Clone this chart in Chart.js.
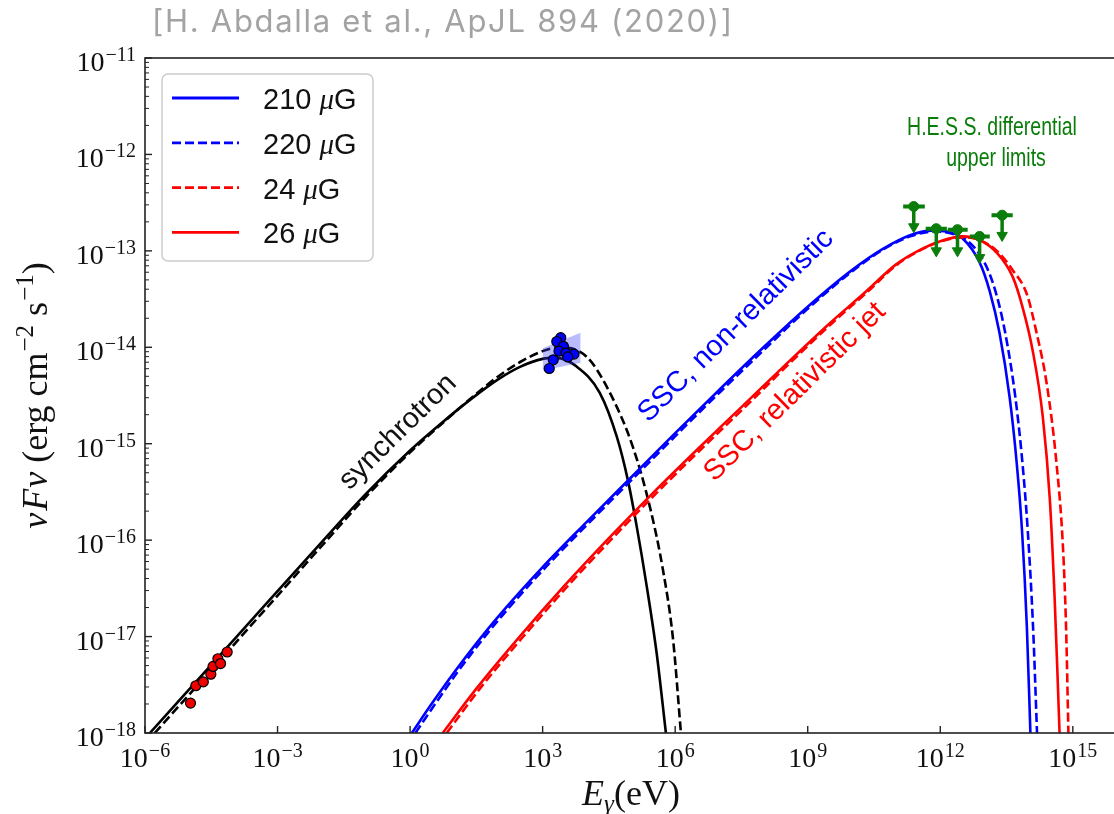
<!DOCTYPE html>
<html>
<head>
<meta charset="utf-8">
<script src="https://cdn.jsdelivr.net/npm/chart.js@4.4.0/dist/chart.umd.min.js"></script>
<style>
html, body { margin: 0; padding: 0; overflow: hidden; background: #fff; }
canvas { display: block; }
</style>
</head>
<body>
<canvas id="sedChart" width="1124" height="814"></canvas>
<script>
// all values are log10: energy in eV, nuFnu in erg cm^-2 s^-1
var synSolidE = [-5.89, -4.0, -2.0, -1.0, 0.0, 0.7, 1.4, 2.0, 2.5, 3.0, 3.3, 3.77, 4.29, 4.68, 4.93, 5.13, 5.36, 5.58, 5.79];
var synSolidF = [-18.0, -17.04, -16.02, -15.52, -15.07, -14.79, -14.53, -14.33, -14.20, -14.12, -14.11, -14.20, -14.47, -14.93, -15.38, -15.86, -16.49, -17.17, -18.0];
var synDashE = [-5.78, -4.0, -2.0, -1.0, 0.0, 0.7, 1.4, 2.0, 2.5, 3.0, 3.4, 4.0, 4.52, 5.04, 5.43, 5.72, 5.95, 6.13];
var synDashF = [-18.0, -17.09, -16.06, -15.55, -15.09, -14.80, -14.52, -14.30, -14.15, -14.04, -14.00, -14.10, -14.47, -15.03, -15.66, -16.30, -17.02, -18.0];

var b210E = [0.04, 0.5, 1.0, 1.5, 2.0, 3.0, 4.0, 5.0, 6.0, 7.0, 8.0, 9.0, 10.0, 10.7, 11.3, 11.8, 12.15, 12.5, 12.89, 13.12, 13.34, 13.57, 13.73, 13.85, 13.96, 14.04];
var b210F = [-18.0, -17.69, -17.37, -17.07, -16.79, -16.28, -15.81, -15.35, -14.89, -14.44, -14.00, -13.58, -13.20, -12.98, -12.84, -12.79, -12.80, -12.87, -13.12, -13.42, -13.85, -14.52, -15.20, -15.90, -16.90, -18.0];
var b220E = [0.12, 0.58, 1.07, 1.57, 2.07, 3.07, 4.07, 5.07, 6.07, 7.07, 8.07, 9.05, 10.04, 10.73, 11.32, 11.85, 12.25, 12.6, 13.0, 13.25, 13.47, 13.70, 13.86, 13.98, 14.10, 14.19];
var b220F = [-18.0, -17.69, -17.37, -17.07, -16.79, -16.28, -15.81, -15.35, -14.89, -14.44, -14.00, -13.58, -13.20, -12.98, -12.85, -12.80, -12.82, -12.89, -13.12, -13.42, -13.85, -14.52, -15.20, -15.90, -16.90, -18.0];

var r26E = [0.74, 1.5, 2.5, 3.5, 4.5, 5.5, 6.5, 7.5, 8.5, 9.5, 10.3, 11.0, 11.5, 12.0, 12.5, 12.9, 13.28, 13.64, 13.86, 14.09, 14.32, 14.48, 14.59, 14.66, 14.70];
var r26F = [-18.0, -17.54, -16.99, -16.47, -15.98, -15.51, -15.06, -14.62, -14.18, -13.75, -13.43, -13.14, -13.00, -12.90, -12.85, -12.89, -13.02, -13.27, -13.58, -14.03, -14.72, -15.58, -16.62, -17.48, -18.0];
var r24E = [0.83, 1.58, 2.58, 3.58, 4.58, 5.58, 6.58, 7.58, 8.56, 9.55, 10.34, 11.03, 11.52, 12.02, 12.5, 12.9, 13.28, 13.64, 13.96, 14.18, 14.41, 14.63, 14.78, 14.85, 14.90];
var r24F = [-18.0, -17.54, -16.99, -16.47, -15.98, -15.51, -15.06, -14.62, -14.18, -13.75, -13.43, -13.14, -13.00, -12.90, -12.86, -12.89, -13.00, -13.20, -13.45, -13.85, -14.38, -15.20, -16.10, -16.95, -18.0];

var radioE = [-4.97, -4.85, -4.68, -4.51, -4.46, -4.35, -4.29, -4.14];
var radioF = [-17.69, -17.51, -17.47, -17.39, -17.31, -17.23, -17.28, -17.16];
var xrayE = [3.41, 3.32, 3.47, 3.37, 3.53, 3.71, 3.57, 3.24, 3.15];
var xrayF = [-13.90, -13.94, -13.99, -14.04, -14.06, -14.07, -14.10, -14.13, -14.22];
var bandE = [3.00, 3.86];
var bandTopF = [-14.01, -13.85];
var bandLowF = [-14.24, -14.16];

// H.E.S.S. differential upper limits
var ulE = [11.40, 11.91, 12.39, 12.89, 13.40];
var ulLoE = [11.16, 11.67, 12.17, 12.67, 13.16];
var ulHiE = [11.65, 12.15, 12.62, 13.12, 13.64];
var ulF = [-12.54, -12.77, -12.78, -12.85, -12.63];
var ulArrowF = [-12.75, -13.00, -13.00, -13.07, -12.84];

var xTickExps = [-6, -3, 0, 3, 6, 9, 12, 15];
var yTickExps = [-18, -17, -16, -15, -14, -13, -12, -11];
var legendLabels = ['210 μG', '220 μG', '24 μG', '26 μG'];
var legendColors = ['#0000ff', '#0000ff', '#ff0000', '#ff0000'];
var legendDashed = [false, true, true, false];

function pts(eArr, fArr) {
    return eArr.map(function (e, i) { return { x: Math.pow(10, e), y: Math.pow(10, fArr[i]) }; });
}

// horizontal bars and stems of the upper limits, broken with null points
var ulBars = [], ulStems = [];
ulE.forEach(function (e, i) {
    ulBars.push({ x: Math.pow(10, ulLoE[i]), y: Math.pow(10, ulF[i]) });
    ulBars.push({ x: Math.pow(10, ulHiE[i]), y: Math.pow(10, ulF[i]) });
    ulBars.push({ x: Math.pow(10, ulHiE[i]), y: null });
    ulStems.push({ x: Math.pow(10, e), y: Math.pow(10, ulF[i]) });
    ulStems.push({ x: Math.pow(10, e), y: Math.pow(10, ulArrowF[i]) });
    ulStems.push({ x: Math.pow(10, e), y: null });
});

var GREEN = '#0b7d0b';
var SERIF = '"Liberation Serif", "DejaVu Serif", serif';
var SANS = '"Liberation Sans", Arial, sans-serif';

function curve(data, color, dashed, order) {
    return {
        type: 'line', data: data, borderColor: color, borderWidth: 2.6,
        borderDash: dashed ? [9, 4] : [], pointRadius: 0, fill: false,
        cubicInterpolationMode: 'monotone', order: order
    };
}

function drawRich(ctx, runs, x, y, align) {
    var w = 0;
    runs.forEach(function (r) { ctx.font = r.f; r.w = ctx.measureText(r.t).width + (r.gap || 0); w += r.w; });
    var cx = align === 'right' ? x - w : (align === 'center' ? x - w / 2 : x);
    runs.forEach(function (r) {
        ctx.font = r.f;
        ctx.fillText(r.t, cx + (r.pre || 0), y + (r.dy || 0));
        cx += r.w;
    });
}

function expText(e) {
    return e < 0 ? '\u2212' + Math.abs(e) : String(e);
}

var decorPlugin = {
    id: 'decor',
    afterDraw: function (chart) {
        var ctx = chart.ctx, a = chart.chartArea;
        var xs = chart.scales.x, ys = chart.scales.y;
        ctx.save();
        ctx.textBaseline = 'alphabetic';
        ctx.textAlign = 'left';

        // frame
        ctx.strokeStyle = '#222';
        ctx.lineWidth = 1.6;
        ctx.strokeRect(a.left, a.top, a.right - a.left, a.bottom - a.top);

        // x ticks + labels
        ctx.lineWidth = 1.4;
        ctx.fillStyle = '#111';
        xTickExps.forEach(function (e) {
            var px = xs.getPixelForValue(Math.pow(10, e));
            ctx.beginPath(); ctx.moveTo(px, a.bottom); ctx.lineTo(px, a.bottom - 7); ctx.stroke();
            drawRich(ctx, [
                { t: '10', f: '28px ' + SERIF },
                { t: expText(e), f: '20px ' + SERIF, dy: -10, pre: 1, gap: 1 }
            ], px, a.bottom + 34, 'center');
        });

        // y ticks (major + minor) + labels
        yTickExps.forEach(function (e) {
            var py = ys.getPixelForValue(Math.pow(10, e));
            ctx.lineWidth = 1.4;
            ctx.beginPath(); ctx.moveTo(a.left, py); ctx.lineTo(a.left + 7, py); ctx.stroke();
            if (e < -11) {
                ctx.lineWidth = 1;
                for (var m = 2; m <= 9; m++) {
                    var my = ys.getPixelForValue(m * Math.pow(10, e));
                    ctx.beginPath(); ctx.moveTo(a.left, my); ctx.lineTo(a.left + 4, my); ctx.stroke();
                }
            }
            drawRich(ctx, [
                { t: '10', f: '28px ' + SERIF },
                { t: expText(e), f: '20px ' + SERIF, dy: -10, pre: 1, gap: 1 }
            ], 136, py + 13, 'right');
        });

        // axis titles
        drawRich(ctx, [
            { t: 'E', f: 'italic 36px ' + SERIF },
            { t: 'γ', f: 'italic 25px ' + SERIF, dy: 7 },
            { t: '(eV)', f: '36px ' + SERIF }
        ], (a.left + a.right) / 2, 805, 'center');

        ctx.save();
        ctx.translate(47, (a.top + a.bottom) / 2);
        ctx.rotate(-Math.PI / 2);
        drawRich(ctx, [
            { t: 'ν', f: 'italic 36px ' + SERIF, gap: 2 },
            { t: 'F', f: 'italic 36px ' + SERIF, gap: 1 },
            { t: 'ν', f: 'italic 36px ' + SERIF },
            { t: ' (erg cm', f: '36px ' + SERIF },
            { t: '\u22122', f: '25px ' + SERIF, dy: -14, pre: 1, gap: 1 },
            { t: ' s', f: '36px ' + SERIF },
            { t: '\u22121', f: '25px ' + SERIF, dy: -14, pre: 1, gap: 1 },
            { t: ')', f: '36px ' + SERIF }
        ], 0, 0, 'center');
        ctx.restore();

        // curve annotations
        ctx.textAlign = 'center';
        ctx.textBaseline = 'middle';
        ctx.font = '29px ' + SANS;
        [['synchrotron', '#111', 398, 432], ['SSC, non-relativistic', '#0000ff', 736, 326], ['SSC, relativistic jet', '#ff0000', 795, 392]].forEach(function (t) {
            ctx.save();
            ctx.translate(t[2], t[3]);
            ctx.rotate(-44.5 * Math.PI / 180);
            ctx.fillStyle = t[1];
            ctx.fillText(t[0], 0, 0);
            ctx.restore();
        });
        ctx.fillStyle = GREEN;
        ctx.font = '25px ' + SANS;
        [['H.E.S.S. differential', 992, 128], ['upper limits', 996, 159]].forEach(function (t) {
            ctx.save();
            ctx.translate(t[1], t[2]);
            ctx.scale(0.78, 1);
            ctx.fillText(t[0], 0, 0);
            ctx.restore();
        });

        // legend
        ctx.textAlign = 'left';
        ctx.textBaseline = 'alphabetic';
        ctx.beginPath();
        ctx.roundRect(162, 74, 211, 187, 6);
        ctx.fillStyle = 'rgba(255,255,255,0.85)';
        ctx.fill();
        ctx.strokeStyle = '#cccccc';
        ctx.lineWidth = 1.5;
        ctx.stroke();
        legendLabels.forEach(function (lab, i) {
            var ly = 98 + i * 44.8;
            ctx.strokeStyle = legendColors[i];
            ctx.lineWidth = 2.8;
            ctx.setLineDash(legendDashed[i] ? [9, 4] : []);
            ctx.beginPath(); ctx.moveTo(172, ly); ctx.lineTo(239, ly); ctx.stroke();
            ctx.setLineDash([]);
            ctx.fillStyle = '#111';
            var parts = lab.split('μ');
            drawRich(ctx, [
                { t: parts[0], f: '29px ' + SANS },
                { t: 'μ', f: 'italic 29px ' + SERIF },
                { t: parts[1], f: '29px ' + SANS }
            ], 263, ly + 11, 'left');
        });

        // citation above the plot
        ctx.fillStyle = '#a3a3a3';
        ctx.font = '31px Inter, "Open Sans", sans-serif';
        ctx.letterSpacing = '1.7px';
        ctx.fillText('[H. Abdalla et al., ApJL 894 (2020)]', 152, 32);
        ctx.letterSpacing = '0px';
        ctx.restore();
    }
};

new Chart(document.getElementById('sedChart').getContext('2d'), {
    type: 'line',
    data: {
        datasets: [
            { type: 'scatter', data: ulE.map(function (e, i) { return { x: Math.pow(10, e), y: Math.pow(10, ulArrowF[i]) }; }),
              pointStyle: 'triangle', rotation: 180, pointRadius: 6, backgroundColor: GREEN, borderColor: GREEN, borderWidth: 1, order: 0 },
            { type: 'scatter', data: pts(ulE, ulF), pointRadius: 5, backgroundColor: GREEN, borderColor: GREEN, borderWidth: 1, order: 1 },
            { type: 'line', data: ulStems, borderColor: GREEN, borderWidth: 3.5, pointRadius: 0, spanGaps: false, fill: false, order: 2 },
            { type: 'line', data: ulBars, borderColor: GREEN, borderWidth: 4, pointRadius: 0, spanGaps: false, fill: false, order: 3 },
            { type: 'scatter', data: pts(xrayE, xrayF), pointRadius: 5, backgroundColor: '#0000ff', borderColor: '#000', borderWidth: 1.2, order: 4 },
            { type: 'scatter', data: pts(radioE, radioF), pointRadius: 5, backgroundColor: '#ee0000', borderColor: '#000', borderWidth: 1.2, order: 5 },
            { type: 'line', data: pts(bandE, bandTopF), borderWidth: 0, pointRadius: 0, fill: false, order: 6 },
            { type: 'line', data: pts(bandE, bandLowF), borderWidth: 0, pointRadius: 0, fill: '-1', backgroundColor: 'rgba(60,60,255,0.35)', order: 6 },
            curve(pts(r26E, r26F), '#ff0000', false, 7),
            curve(pts(r24E, r24F), '#ff0000', true, 8),
            curve(pts(b220E, b220F), '#0000ff', true, 9),
            curve(pts(b210E, b210F), '#0000ff', false, 10),
            curve(pts(synDashE, synDashF), '#000000', true, 11),
            curve(pts(synSolidE, synSolidF), '#000000', false, 12)
        ]
    },
    options: {
        responsive: false,
        animation: false,
        layout: { padding: { left: 145, top: 58, right: 7, bottom: 81 } },
        scales: {
            x: { type: 'logarithmic', min: 1e-6, max: 1e16, display: false },
            y: { type: 'logarithmic', min: 1e-18, max: 1e-11, display: false }
        },
        plugins: {
            legend: { display: false },
            tooltip: { enabled: false }
        }
    },
    plugins: [decorPlugin]
});
</script>
</body>
</html>
